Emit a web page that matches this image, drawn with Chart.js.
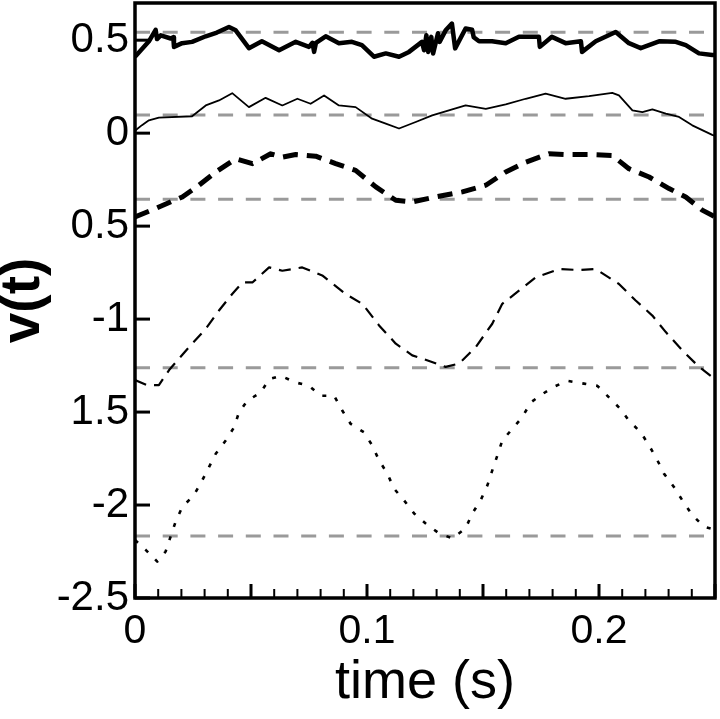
<!DOCTYPE html>
<html><head><meta charset="utf-8">
<script src="https://cdn.jsdelivr.net/npm/chart.js@4.4.1/dist/chart.umd.min.js"></script>
<style>html,body{margin:0;padding:0;background:#fff;}#wrap{width:720px;height:719px;}</style>
</head><body><div id="wrap"><canvas id="c" width="720" height="719"></canvas></div>
<script>
// ---- data (time in s, v(t)) ----
const t1 = [0,0.006,0.0089,0.0095,0.0111,0.0154,0.0165,0.0168,0.0203,0.0246,0.0305,0.0353,0.0405,0.0434,0.0491,0.0547,0.0621,0.0693,0.0750,0.0765,0.0772,0.0780,0.0822,0.0879,0.0935,0.0978,0.1030,0.1081,0.1138,0.1181,0.1237,0.1246,0.1256,0.1264,0.1277,0.1285,0.1306,0.1313,0.1339,0.1366,0.1380,0.1425,0.1453,0.1460,0.1483,0.1539,0.1598,0.1655,0.1741,0.1745,0.1797,0.1856,0.1922,0.1927,0.1986,0.2072,0.2129,0.2180,0.2259,0.2331,0.2374,0.2431,0.2488,0.25];
const v1 = [0.411,0.494,0.556,0.506,0.526,0.509,0.516,0.464,0.484,0.491,0.521,0.541,0.571,0.553,0.457,0.494,0.446,0.491,0.464,0.486,0.437,0.486,0.521,0.484,0.491,0.473,0.411,0.429,0.411,0.437,0.491,0.446,0.527,0.437,0.518,0.429,0.537,0.491,0.553,0.589,0.456,0.563,0.556,0.516,0.494,0.494,0.484,0.518,0.518,0.464,0.518,0.484,0.494,0.437,0.494,0.544,0.484,0.457,0.494,0.491,0.473,0.429,0.420,0.420];

const t2 = [0,0.003,0.006,0.0103,0.0246,0.0305,0.0362,0.0419,0.0491,0.0563,0.0635,0.0700,0.0757,0.0815,0.0879,0.0951,0.1022,0.1081,0.1138,0.1210,0.1281,0.1353,0.1425,0.1512,0.1598,0.1684,0.1770,0.1856,0.1957,0.2057,0.2086,0.2144,0.2187,0.2230,0.2288,0.2345,0.2402,0.2488,0.25];
const v2 = [0.013,0.043,0.069,0.084,0.091,0.149,0.176,0.215,0.140,0.190,0.149,0.185,0.158,0.203,0.149,0.140,0.078,0.051,0.025,0.060,0.096,0.123,0.149,0.131,0.155,0.185,0.212,0.185,0.199,0.217,0.203,0.123,0.113,0.128,0.105,0.087,0.042,-0.009,-0.015];

const t3 = [0,0.0089,0.0204,0.0276,0.0348,0.0434,0.0506,0.0585,0.0635,0.0693,0.0779,0.0865,0.0951,0.1038,0.1124,0.1195,0.1296,0.1411,0.1512,0.1598,0.1684,0.1784,0.1856,0.1957,0.2057,0.2129,0.2216,0.2302,0.2374,0.2445,0.25];
const v3 = [-0.45,-0.405,-0.343,-0.280,-0.209,-0.138,-0.164,-0.111,-0.129,-0.115,-0.124,-0.164,-0.200,-0.289,-0.361,-0.370,-0.343,-0.316,-0.280,-0.209,-0.156,-0.111,-0.115,-0.115,-0.120,-0.191,-0.236,-0.298,-0.343,-0.414,-0.45];

const t4 = [0,0.005,0.0103,0.0147,0.0233,0.0305,0.0362,0.0419,0.0463,0.0506,0.0578,0.0635,0.0721,0.0807,0.0908,0.0980,0.1052,0.1124,0.1195,0.1238,0.1339,0.1397,0.1469,0.1540,0.1583,0.1655,0.1727,0.1828,0.1914,0.1986,0.2086,0.2158,0.2230,0.2288,0.2359,0.2431,0.2488,0.25];
const v4 = [-1.328,-1.354,-1.355,-1.274,-1.150,-1.052,-0.954,-0.865,-0.803,-0.803,-0.722,-0.740,-0.722,-0.765,-0.865,-0.918,-1.034,-1.132,-1.195,-1.212,-1.257,-1.239,-1.150,-1.025,-0.918,-0.847,-0.776,-0.731,-0.736,-0.731,-0.811,-0.900,-0.981,-1.070,-1.168,-1.257,-1.311,-1.315];

const t5 = [0,0.0046,0.0096,0.0132,0.0175,0.0204,0.0254,0.0290,0.0319,0.0348,0.0391,0.0427,0.0448,0.0484,0.0542,0.0578,0.0628,0.0693,0.0750,0.0800,0.0858,0.0894,0.0930,0.0987,0.1023,0.1052,0.1088,0.1116,0.1159,0.1203,0.1253,0.1310,0.1368,0.1425,0.1454,0.1490,0.1519,0.1540,0.1562,0.1583,0.1626,0.1669,0.1706,0.1756,0.1806,0.1863,0.1935,0.1993,0.2043,0.2093,0.2129,0.2180,0.2216,0.2252,0.2280,0.2323,0.2359,0.2402,0.2453,0.2488];
const v5 = [-2.188,-2.241,-2.304,-2.250,-2.090,-2.010,-1.947,-1.867,-1.796,-1.724,-1.653,-1.582,-1.502,-1.439,-1.395,-1.323,-1.305,-1.341,-1.359,-1.412,-1.412,-1.493,-1.564,-1.609,-1.680,-1.760,-1.831,-1.911,-1.974,-2.045,-2.099,-2.152,-2.179,-2.125,-2.045,-1.974,-1.894,-1.814,-1.733,-1.653,-1.591,-1.528,-1.448,-1.403,-1.364,-1.332,-1.347,-1.359,-1.421,-1.484,-1.546,-1.609,-1.680,-1.760,-1.831,-1.903,-1.974,-2.054,-2.117,-2.128];

// horizontal grey reference levels
const refLevels = [0.543, 0.097, -0.355, -1.262, -2.167];

// axes
const xMin = 0, xMax = 0.25;
const yMin = -2.5, yMax = 0.7;
const xTickValues = [0, 0.1, 0.2];
const xTickLabels = ["0", "0.1", "0.2"];
const xMajorMarks = [0, 0.05, 0.1, 0.15, 0.2, 0.25];
const xMinorStep = 0.01;
const yTickValues = [-2.5, -2, -1.5, -1, -0.5, 0, 0.5];
const yTickLabels = ["-2.5", "-2", "1.5", "-1", "0.5", "0", "0.5"];

const FAMILY = "'Liberation Sans', Arial, Helvetica, sans-serif";
const pts = (t, v) => t.map((x, i) => ({x: x, y: v[i]}));

const curveSets = [
  {data: pts(t1, v1), borderColor: '#000', borderWidth: 4.5, order: 1},
  {data: pts(t2, v2), borderColor: '#000', borderWidth: 1.8, order: 1},
  {data: pts(t3, v3), borderColor: '#000', borderWidth: 5, borderDash: [15, 9], order: 1},
  {data: pts(t4, v4), borderColor: '#000', borderWidth: 2.2, borderDash: [12, 8], order: 1},
  {data: pts(t5, v5), borderColor: '#000', borderWidth: 2.6, borderDash: [4, 10], order: 1}
];
const refSets = refLevels.map(l => ({
  data: [{x: xMin, y: l}, {x: xMax, y: l}],
  borderColor: '#9a9a9a', borderWidth: 3, borderDash: [15, 12.7], order: 10
}));

const framePlugin = {
  id: 'frame',
  afterDatasetsDraw(chart) {
    const {ctx, chartArea: a, scales: {x, y}} = chart;
    ctx.save();
    ctx.strokeStyle = '#000';
    ctx.lineCap = 'butt';
    const nMinor = Math.round((xMax - xMin) / xMinorStep);
    for (let k = 0; k <= nMinor; k++) {
      const tv = xMin + k * xMinorStep;
      const major = xMajorMarks.some(m => Math.abs(m - tv) < 1e-9);
      const px = x.getPixelForValue(tv);
      ctx.lineWidth = major ? 3 : 2;
      ctx.beginPath();
      ctx.moveTo(px, a.bottom);
      ctx.lineTo(px, a.bottom - (major ? 14 : 9));
      ctx.stroke();
    }
    ctx.lineWidth = 3;
    for (const v of yTickValues) {
      const py = y.getPixelForValue(v);
      ctx.beginPath();
      ctx.moveTo(a.left, py);
      ctx.lineTo(a.left + 15, py);
      ctx.stroke();
    }
    ctx.lineWidth = 3.5;
    ctx.strokeRect(a.left, a.top, a.right - a.left, a.bottom - a.top);
    ctx.restore();
  }
};

new Chart(document.getElementById('c'), {
  type: 'line',
  data: {datasets: [...curveSets, ...refSets]},
  options: {
    responsive: false,
    animation: false,
    layout: {padding: {top: 3, right: 5, left: 0, bottom: 0}},
    elements: {point: {radius: 0}, line: {tension: 0, borderCapStyle: 'butt', borderJoinStyle: 'round'}},
    plugins: {legend: {display: false}, tooltip: {enabled: false}},
    scales: {
      x: {
        type: 'linear', min: xMin, max: xMax,
        grid: {display: false, drawTicks: false},
        border: {display: false},
        afterBuildTicks: s => { s.ticks = xTickValues.map(v => ({value: v})); },
        ticks: {
          font: {family: FAMILY, size: 41}, color: '#000', padding: 9,
          maxRotation: 0, autoSkip: false,
          callback: (v, i) => xTickLabels[i]
        },
        title: {display: true, text: 'time (s)', color: '#000',
          font: {family: FAMILY, size: 54}, padding: {top: 0, bottom: 3}},
        afterFit: s => { s.height = 121; s.paddingLeft = 0; s.paddingRight = 0; }
      },
      y: {
        type: 'linear', min: yMin, max: yMax,
        grid: {display: false, drawTicks: false},
        border: {display: false},
        afterBuildTicks: s => { s.ticks = yTickValues.map(v => ({value: v})); },
        ticks: {
          font: {family: FAMILY, size: 42}, color: '#000', padding: 6,
          autoSkip: false,
          callback: (v, i) => yTickLabels[i]
        },
        title: {display: true, text: 'v(t)', color: '#000',
          font: {family: FAMILY, size: 55, weight: 'bold', lineHeight: 0.85}, padding: {top: 0, bottom: 0}},
        afterFit: s => { s.width = 135; s.paddingTop = 0; s.paddingBottom = 0; }
      }
    }
  },
  plugins: [framePlugin]
});
</script>
</body></html>
